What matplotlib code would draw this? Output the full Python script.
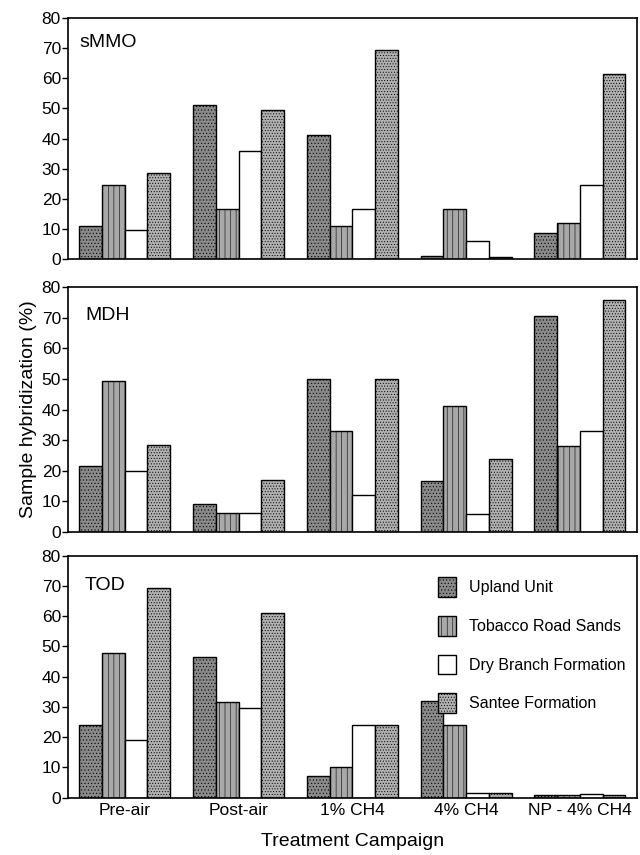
import numpy as np
import matplotlib
matplotlib.use('Agg')
import matplotlib.pyplot as plt

#Treatment campaigns and formations
campaigns = ['Pre-air', 'Post-air', '1% CH4', '4% CH4', 'NP - 4% CH4']
formations = ['Upland Unit', 'Tobacco Road Sands', 'Dry Branch Formation', 'Santee Formation']

#sMMO hybridization values (%)
smmo_upland = [11, 51, 41, 1, 8.5]
smmo_tobacco = [24.5, 16.5, 11, 16.5, 12]
smmo_dry = [9.5, 36, 16.5, 6, 24.5]
smmo_santee = [28.5, 49.5, 69.5, 0.8, 61.5]

#MDH hybridization values (%)
mdh_upland = [21.5, 9, 50, 16.5, 70.5]
mdh_tobacco = [49.5, 6.3, 33, 41, 28]
mdh_dry = [19.8, 6.3, 12, 5.7, 33]
mdh_santee = [28.5, 17, 50, 23.8, 76]

#TOD hybridization values (%)
tod_upland = [24, 46.5, 7.3, 32, 1.0]
tod_tobacco = [48, 31.5, 10.3, 24, 1.0]
tod_dry = [19, 29.8, 24, 1.5, 1.2]
tod_santee = [69.5, 61, 24, 1.5, 1.0]

panels = [
    ('sMMO', [smmo_upland, smmo_tobacco, smmo_dry, smmo_santee]),
    ('MDH', [mdh_upland, mdh_tobacco, mdh_dry, mdh_santee]),
    ('TOD', [tod_upland, tod_tobacco, tod_dry, tod_santee]),
]

#bar styles for each formation
styles = [
    dict(facecolor='#8a8a8a', hatch='.....'),
    dict(facecolor='#a8a8a8', hatch='|||'),
    dict(facecolor='white', hatch=''),
    dict(facecolor='#b0b0b0', hatch='......'),
]

plt.rcParams['font.family'] = ['Liberation Sans', 'DejaVu Sans']
plt.rcParams['hatch.linewidth'] = 0.4
plt.rcParams['hatch.color'] = '#666666'

fig = plt.figure(figsize=(6.4, 8.55), dpi=100)
boxes = [(0.106, 0.697, 0.889, 0.282),
         (0.106, 0.378, 0.889, 0.286),
         (0.106, 0.067, 0.889, 0.283)]

x = np.arange(len(campaigns))
width = 0.2
label_pos = [(0.02, 0.9), (0.03, 0.885), (0.03, 0.875)]

for i, ((name, series), box) in enumerate(zip(panels, boxes)):
    ax = fig.add_axes(box)
    for j, (vals, st) in enumerate(zip(series, styles)):
        ax.bar(x + (j - 1.5) * width, vals, width, edgecolor='black',
               linewidth=1.0, label=formations[j], **st)
    ax.set_xlim(-0.5, 4.5)
    ax.set_ylim(0, 80)
    ax.set_yticks(range(0, 81, 10))
    ax.tick_params(axis='y', direction='out', length=4, width=1, labelsize=12.5, pad=1)
    ax.tick_params(axis='x', length=0, labelsize=12.5)
    for s in ax.spines.values():
        s.set_linewidth(1.2)
    ax.text(label_pos[i][0], label_pos[i][1], name, transform=ax.transAxes,
            fontsize=14, va='center')
    if i < 2:
        ax.set_xticks([])
    else:
        ax.set_xticks(x)
        ax.set_xticklabels(campaigns)
        ax.set_xlabel('Treatment Campaign', fontsize=14, labelpad=11)
        ax.legend(loc='upper right', frameon=False, fontsize=11.5,
                  handlelength=1.1, handleheight=1.5, labelspacing=1.2,
                  handletextpad=0.8, bbox_to_anchor=(1.005, 0.97))
    if i == 1:
        ax.set_ylabel('Sample hybridization (%)', fontsize=14, labelpad=3)

fig.savefig('out.png', dpi=100)
